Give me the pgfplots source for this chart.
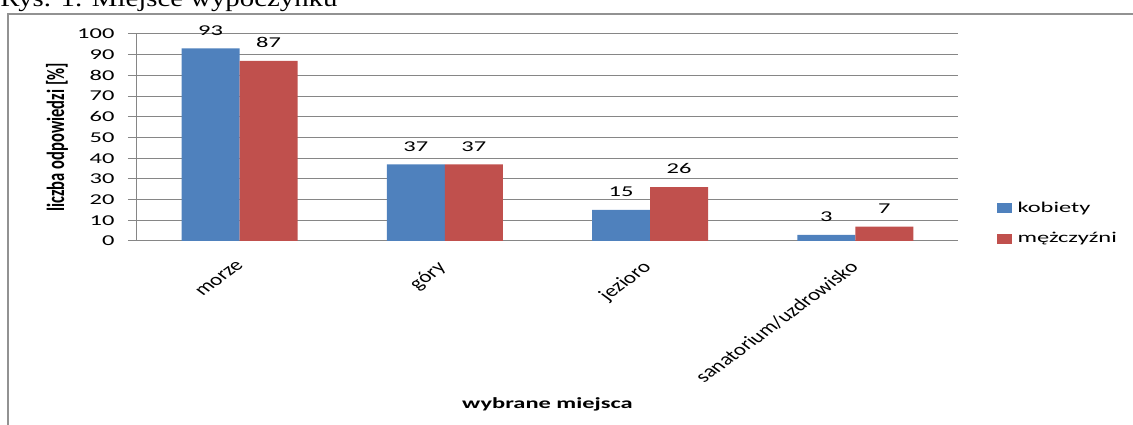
\documentclass[border=0pt]{standalone}
\usepackage{pgfplots}
\pgfplotsset{compat=1.18}
\usepackage{fontspec}
\setmainfont{Carlito}
\newfontfamily\timesf{Liberation Serif}
\definecolor{kob}{HTML}{4F81BD}
\definecolor{mez}{HTML}{C0504D}
\definecolor{gridc}{HTML}{868686}
\newcommand\sx[1]{\scalebox{1.63}[1]{#1}}
\newcommand\cat[1]{\scalebox{1.35}[1]{\rotatebox{45}{#1}}}
\begin{document}
\begin{tikzpicture}
\useasboundingbox (0,0) rectangle (849.75pt,318.75pt);
\draw[gridc!90, line width=1.5pt] (6pt,0) -- (6pt,308.25pt) -- (849.75pt,308.25pt);
\node[anchor=base west, inner sep=0pt, font=\timesf\fontsize{18pt}{21pt}\selectfont] at (0,313.5pt) {\scalebox{1.2}[1]{Rys. 1. Miejsce wypoczynku}};
\begin{axis}[
  at={(102.75pt,138pt)}, anchor=south west,
  width=615.75pt, height=155.25pt, scale only axis,
  xmin=-0.5, xmax=3.5, ymin=0, ymax=100,
  ybar=0pt, bar width=43.5pt,
  axis lines*=left,
  axis line style={-, draw=gridc, line width=0.75pt},
  xtick={0,1,2,3},
  xticklabels={\cat{morze},\cat{góry},\cat{jezioro},\cat{sanatorium/uzdrowisko}},
  xtick style={draw=none},
  xticklabel style={anchor=north east, inner sep=0pt, xshift=3.75pt, yshift=-7.5pt, font=\fontsize{12.75pt}{15pt}\selectfont},
  ytick={0,10,...,100},
  tick align=outside,
  major tick length=6.75pt,
  ytick style={draw=gridc, line width=0.75pt},
  ymajorgrids, grid style={draw=gridc, line width=0.75pt},
  /pgf/number format/assume math mode=true,
  yticklabel={\sx{\pgfmathprintnumber{\tick}}\hspace*{10pt}},
  yticklabel style={anchor=east, inner sep=0pt, font=\fontsize{11.25pt}{13pt}\selectfont},
  ylabel={\scalebox{1.5}[1]{\rotatebox{90}{\bfseries liczba odpowiedzi [\%]}}},
  ylabel style={rotate=-90, at={(axis description cs:-0.0974,0.5)}, anchor=center, font=\fontsize{12.4pt}{14pt}\selectfont},
  xlabel={\scalebox{1.58}[1]{\bfseries wybrane miejsca}},
  xlabel style={at={(axis description cs:0.5,-0.8068)}, anchor=base, font=\fontsize{11.6pt}{14pt}\selectfont},
  nodes near coords={\sx{\pgfmathprintnumber{\pgfplotspointmeta}}},
  nodes near coords style={text=black, inner sep=0pt, anchor=south, yshift=9.75pt, font=\fontsize{11.25pt}{13pt}\selectfont},
  legend style={at={(1.0475,0.0845)}, anchor=west, draw=none, fill=none, inner sep=0pt, row sep=13.25pt, font=\fontsize{11.25pt}{13pt}\selectfont, nodes={inner sep=0pt},
    /tikz/every odd column/.append style={column sep=4.5pt}},
  legend cell align=left,
  legend image code/.code={\fill (0pt,-3.75pt) rectangle (10.7pt,3.75pt);},
]
\addplot[fill=kob, draw=none] coordinates {(0,93) (1,37) (2,15) (3,3)};
\addlegendentry{\sx{kobiety}}
\addplot[fill=mez, draw=none] coordinates {(0,87) (1,37) (2,26) (3,7)};
\addlegendentry{\sx{mężczyźni}}
\end{axis}
\end{tikzpicture}
\end{document}
